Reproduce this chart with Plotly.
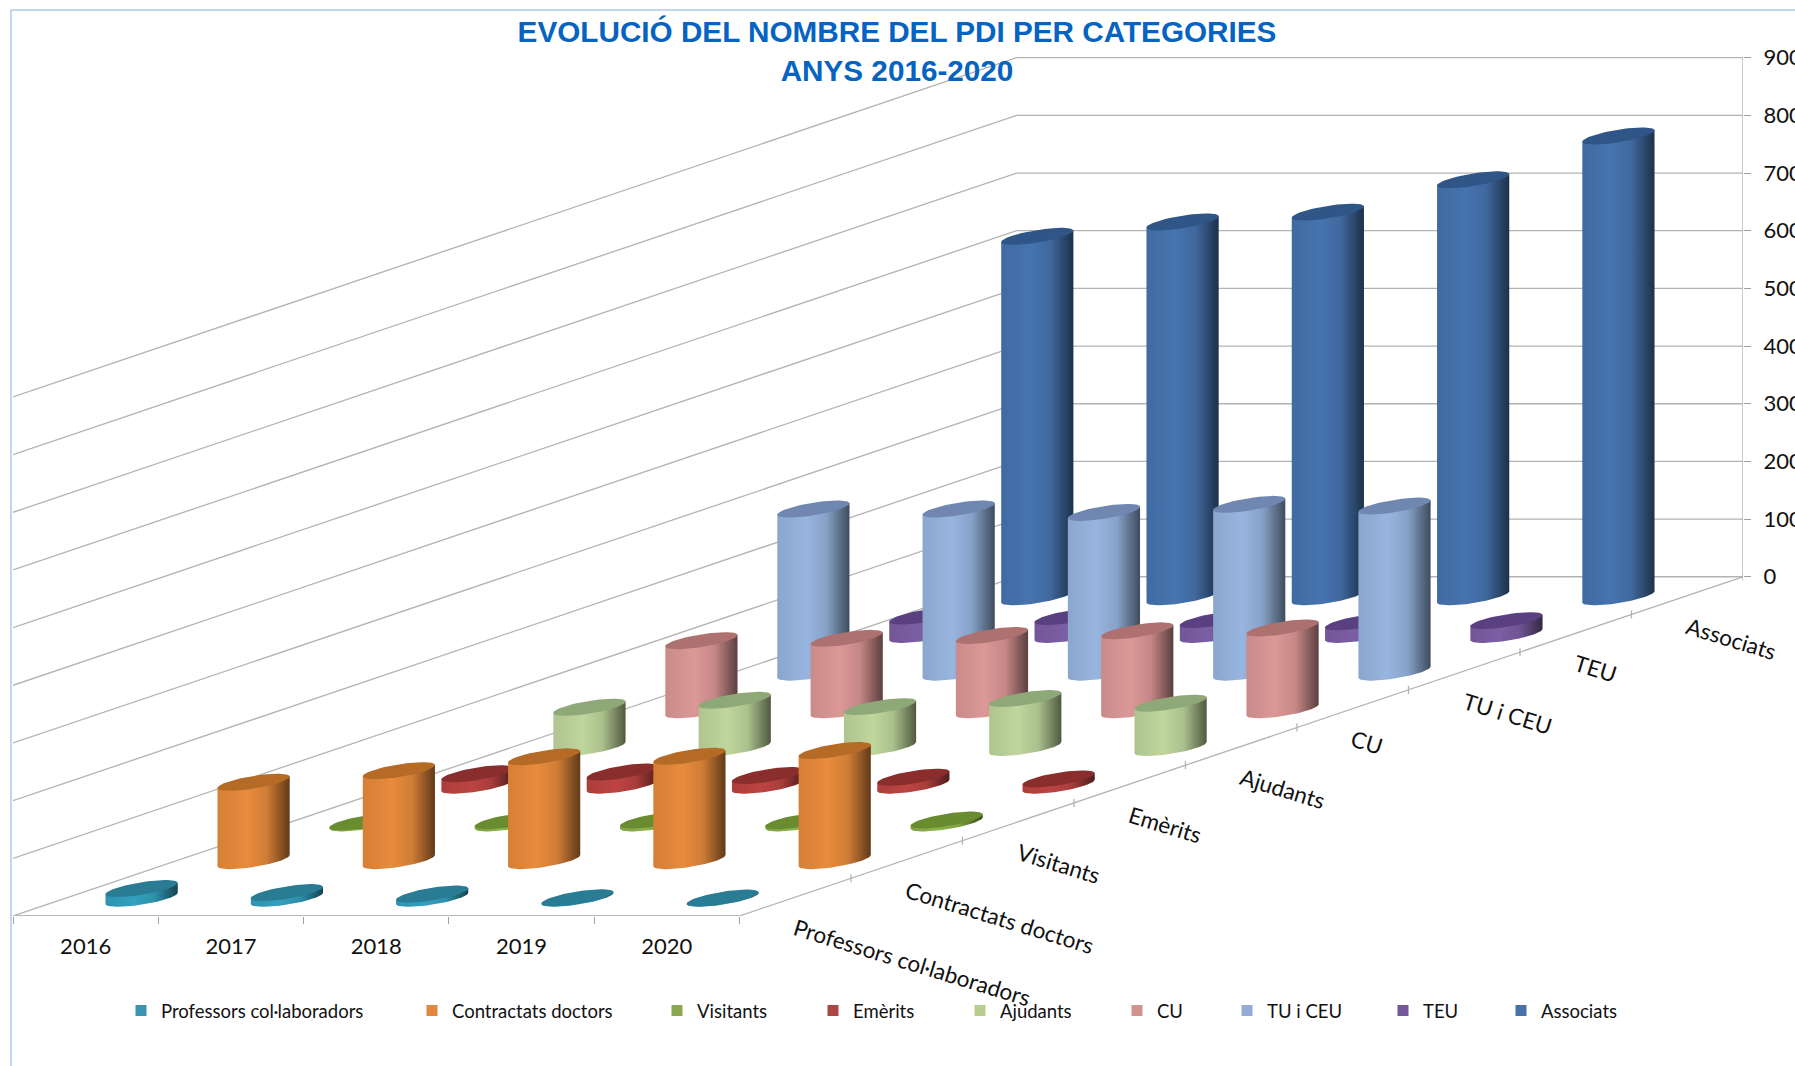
import numpy as np
import plotly.graph_objects as go

years = ["2016", "2017", "2018", "2019", "2020"]
categories = ["Professors col·laboradors", "Contractats doctors", "Visitants", "Emèrits",
              "Ajudants", "CU", "TU i CEU", "TEU", "Associats"]
value_ticks = [0, 100, 200, 300, 400, 500, 600, 700, 800, 900]

professors = [17, 10, 7.5, 1, 0.5]
contractats = [136, 156, 180, 181, 191]
visitants = [2, 4, 5, 4, 5]
emerits = [20, 23, 17, 14, 11]
ajudants = [70, 82, 71, 85, 77]
cu = [120, 124, 129, 137, 142]
tu_ceu = [283, 283, 277, 291, 288]
teu = [32, 31, 26, 22, 24]
associats = [625, 650, 667, 723, 799]
series = [professors, contractats, visitants, emerits, ajudants, cu, tu_ceu, teu, associats]

body_colors = ["#33A0BE", "#E88B3C", "#8DB24A", "#BC4442", "#BFD69C", "#DB9896", "#97B5DF", "#7C5EA4", "#4674AF"]
top_colors = ["#2A7C94", "#B56A26", "#6A8C30", "#8A2E2D", "#8FA878", "#AD7170", "#7088B1", "#5A4081", "#2F5687"]
swatch_colors = ["#3A96B0", "#E2873B", "#8CA84F", "#AC4643", "#B7CE8F", "#D29290", "#93ABD6", "#715899", "#4573A9"]

# oblique projection (depth axis -> screen), expressed in axis units
L, R, T, B = 13, 52, 50, 150
PX_X = 145.4
PX_Y = 0.5768
SHEAR_X = 111.6 / PX_X
SHEAR_Y = 37.7 / PX_Y
BAR_SHEAR_X = 112.05 / PX_X
BAR_DROP = 1.2 / PX_Y
FLOOR = -9 * SHEAR_Y
XEND = 5 + 9 * SHEAR_X
YTOP = 900 + 7.7 / PX_Y


def project(year_pos, cat_pos, value):
    return year_pos + cat_pos * SHEAR_X, value + FLOOR + cat_pos * SHEAR_Y


E_A = 27 / PX_X
E_BX = 24 / PX_X
E_BY = 8.5 / PX_Y
T_R = np.arctan2(E_BX, E_A)


def ellipse(cx, cy, t):
    return cx + E_A * np.cos(t) + E_BX * np.sin(t), cy + E_BY * np.sin(t)


def shade(hex_color, f):
    r, g, b = (int(hex_color[i:i + 2], 16) for i in (1, 3, 5))
    return f"rgb({int(r * f)},{int(g * f)},{int(b * f)})"


fig = go.Figure()

# walls and floor
gx, gy = [], []
for v in value_ticks:
    x0, y0 = project(0, 0, v)
    x1, y1 = project(0, 9, v)
    gx += [x0, x1, XEND, None]
    gy += [y0, y1, v, None]
gx += [XEND, XEND, None, 5, XEND, None]
gy += [0, 900, None, FLOOR, 0, None]
for i in range(1, 10):
    x0, y0 = project(5, i, 0)
    gx += [x0, x0, None]
    gy += [y0 + 4 / PX_Y, y0 - 4 / PX_Y, None]
fig.add_trace(go.Scatter(x=gx, y=gy, mode="lines", line=dict(color="#B3B3B3", width=1.3),
                         hoverinfo="skip", showlegend=False))
fig.add_trace(go.Scatter(x=[0, 5], y=[FLOOR, FLOOR], mode="lines", cliponaxis=False,
                         line=dict(color="#B8B8B8", width=2), hoverinfo="skip", showlegend=False))

# cylinders, back to front
for i in range(len(categories) - 1, -1, -1):
    for j, v in enumerate(series[i]):
        cx = j + 0.5 + (i + 0.5) * BAR_SHEAR_X
        cy0 = FLOOR + (i + 0.5) * SHEAR_Y - BAR_DROP
        cy1 = cy0 + v
        ts = np.linspace(T_R, T_R - np.pi, 40)
        bx, by = ellipse(cx, cy0, ts)
        tx, ty = ellipse(cx, cy1, np.array([T_R - np.pi, T_R]))
        c = body_colors[i]
        fig.add_trace(go.Scatter(
            x=list(bx) + list(tx) + [bx[0]], y=list(by) + list(ty) + [by[0]],
            mode="lines", line=dict(width=0), fill="toself",
            fillgradient=dict(type="horizontal", colorscale=[
                [0, shade(c, 0.92)], [0.4, shade(c, 1.0)], [0.68, shade(c, 0.9)],
                [0.88, shade(c, 0.6)], [1, shade(c, 0.42)]]),
            hoverinfo="skip", showlegend=False))
        ex, ey = ellipse(cx, cy1, np.linspace(0, 2 * np.pi, 60))
        fig.add_trace(go.Scatter(x=ex, y=ey, mode="lines", line=dict(width=0), fill="toself",
                                 fillcolor=top_colors[i], hoverinfo="skip", showlegend=False))

# legend entries, one positioned legend each
text_px = [161, 452, 697, 853, 1000, 1157, 1267, 1423, 1541]
plot_w = 1795 - L - R
plot_h = 1066 - T - B
legends = {}
for k, name in enumerate(categories):
    key = "legend" if k == 0 else f"legend{k + 1}"
    fig.add_trace(go.Scatter(x=[None], y=[None], mode="markers", name=name, legend=key,
                             marker=dict(symbol="square", size=11, color=swatch_colors[k])))
    legends[key] = dict(x=(text_px[k] - 40 - L) / plot_w, xanchor="left",
                        y=(916 - 1011) / plot_h, yanchor="middle",
                        bgcolor="rgba(0,0,0,0)", font=dict(family="Lato", size=18.5, color="#111111"),
                        orientation="h")

# depth-axis labels
for i, name in enumerate(categories):
    x, y = project(5, i + 0.5, 0)
    fig.add_annotation(x=x, y=y, text=name, showarrow=False, xanchor="left", yanchor="top",
                       xshift=-7, yshift=-14, textangle=17,
                       font=dict(family="Lato", size=22.5, color="#111111"))

fig.update_layout(
    width=1795, height=1066, autosize=False,
    margin=dict(l=L, r=R, t=T, b=B, autoexpand=False),
    paper_bgcolor="white", plot_bgcolor="white",
    title=dict(text="EVOLUCIÓ DEL NOMBRE DEL PDI PER CATEGORIES<br>ANYS 2016-2020",
               x=897 / 1795, xanchor="center", y=1 - 42 / 1066, yanchor="top",
               font=dict(family="Liberation Sans", size=29.7, color="#0563C1", weight="bold")),
    xaxis=dict(range=[0, XEND], showgrid=False, zeroline=False, fixedrange=True, showline=False,
               tickmode="array", tickvals=[0.5, 1.5, 2.5, 3.5, 4.5], ticktext=years, ticks="",
               ticklabelstandoff=15, tickfont=dict(family="Lato", size=22, color="#111111"),
               minor=dict(tickmode="array", tickvals=[0, 1, 2, 3, 4, 5], ticks="outside",
                          ticklen=7, tickcolor="#A0A0A0", tickwidth=1)),
    yaxis=dict(range=[FLOOR, YTOP], side="right", showgrid=False, zeroline=False, showline=False,
               fixedrange=True, tickmode="array", tickvals=value_ticks, ticks="outside", ticklen=7,
               tickcolor="#A0A0A0", ticklabelstandoff=8,
               tickfont=dict(family="Lato", size=22, color="#111111")),
    shapes=[
        dict(type="line", xref="paper", yref="paper", x0=(11 - L) / plot_w, x1=(1795 - L) / plot_w,
             y0=(916 - 10) / plot_h, y1=(916 - 10) / plot_h, line=dict(color="#AEC8EA", width=1.5)),
        dict(type="line", xref="paper", yref="paper", x0=(11 - L) / plot_w, x1=(11 - L) / plot_w,
             y0=(916 - 10) / plot_h, y1=(916 - 1066) / plot_h, line=dict(color="#AEC8EA", width=1.5)),
    ],
    **legends,
)
fig.write_html("out.html", config=dict(displayModeBar=False),
               post_script="document.body.style.margin='0';document.body.style.overflow='hidden';")
